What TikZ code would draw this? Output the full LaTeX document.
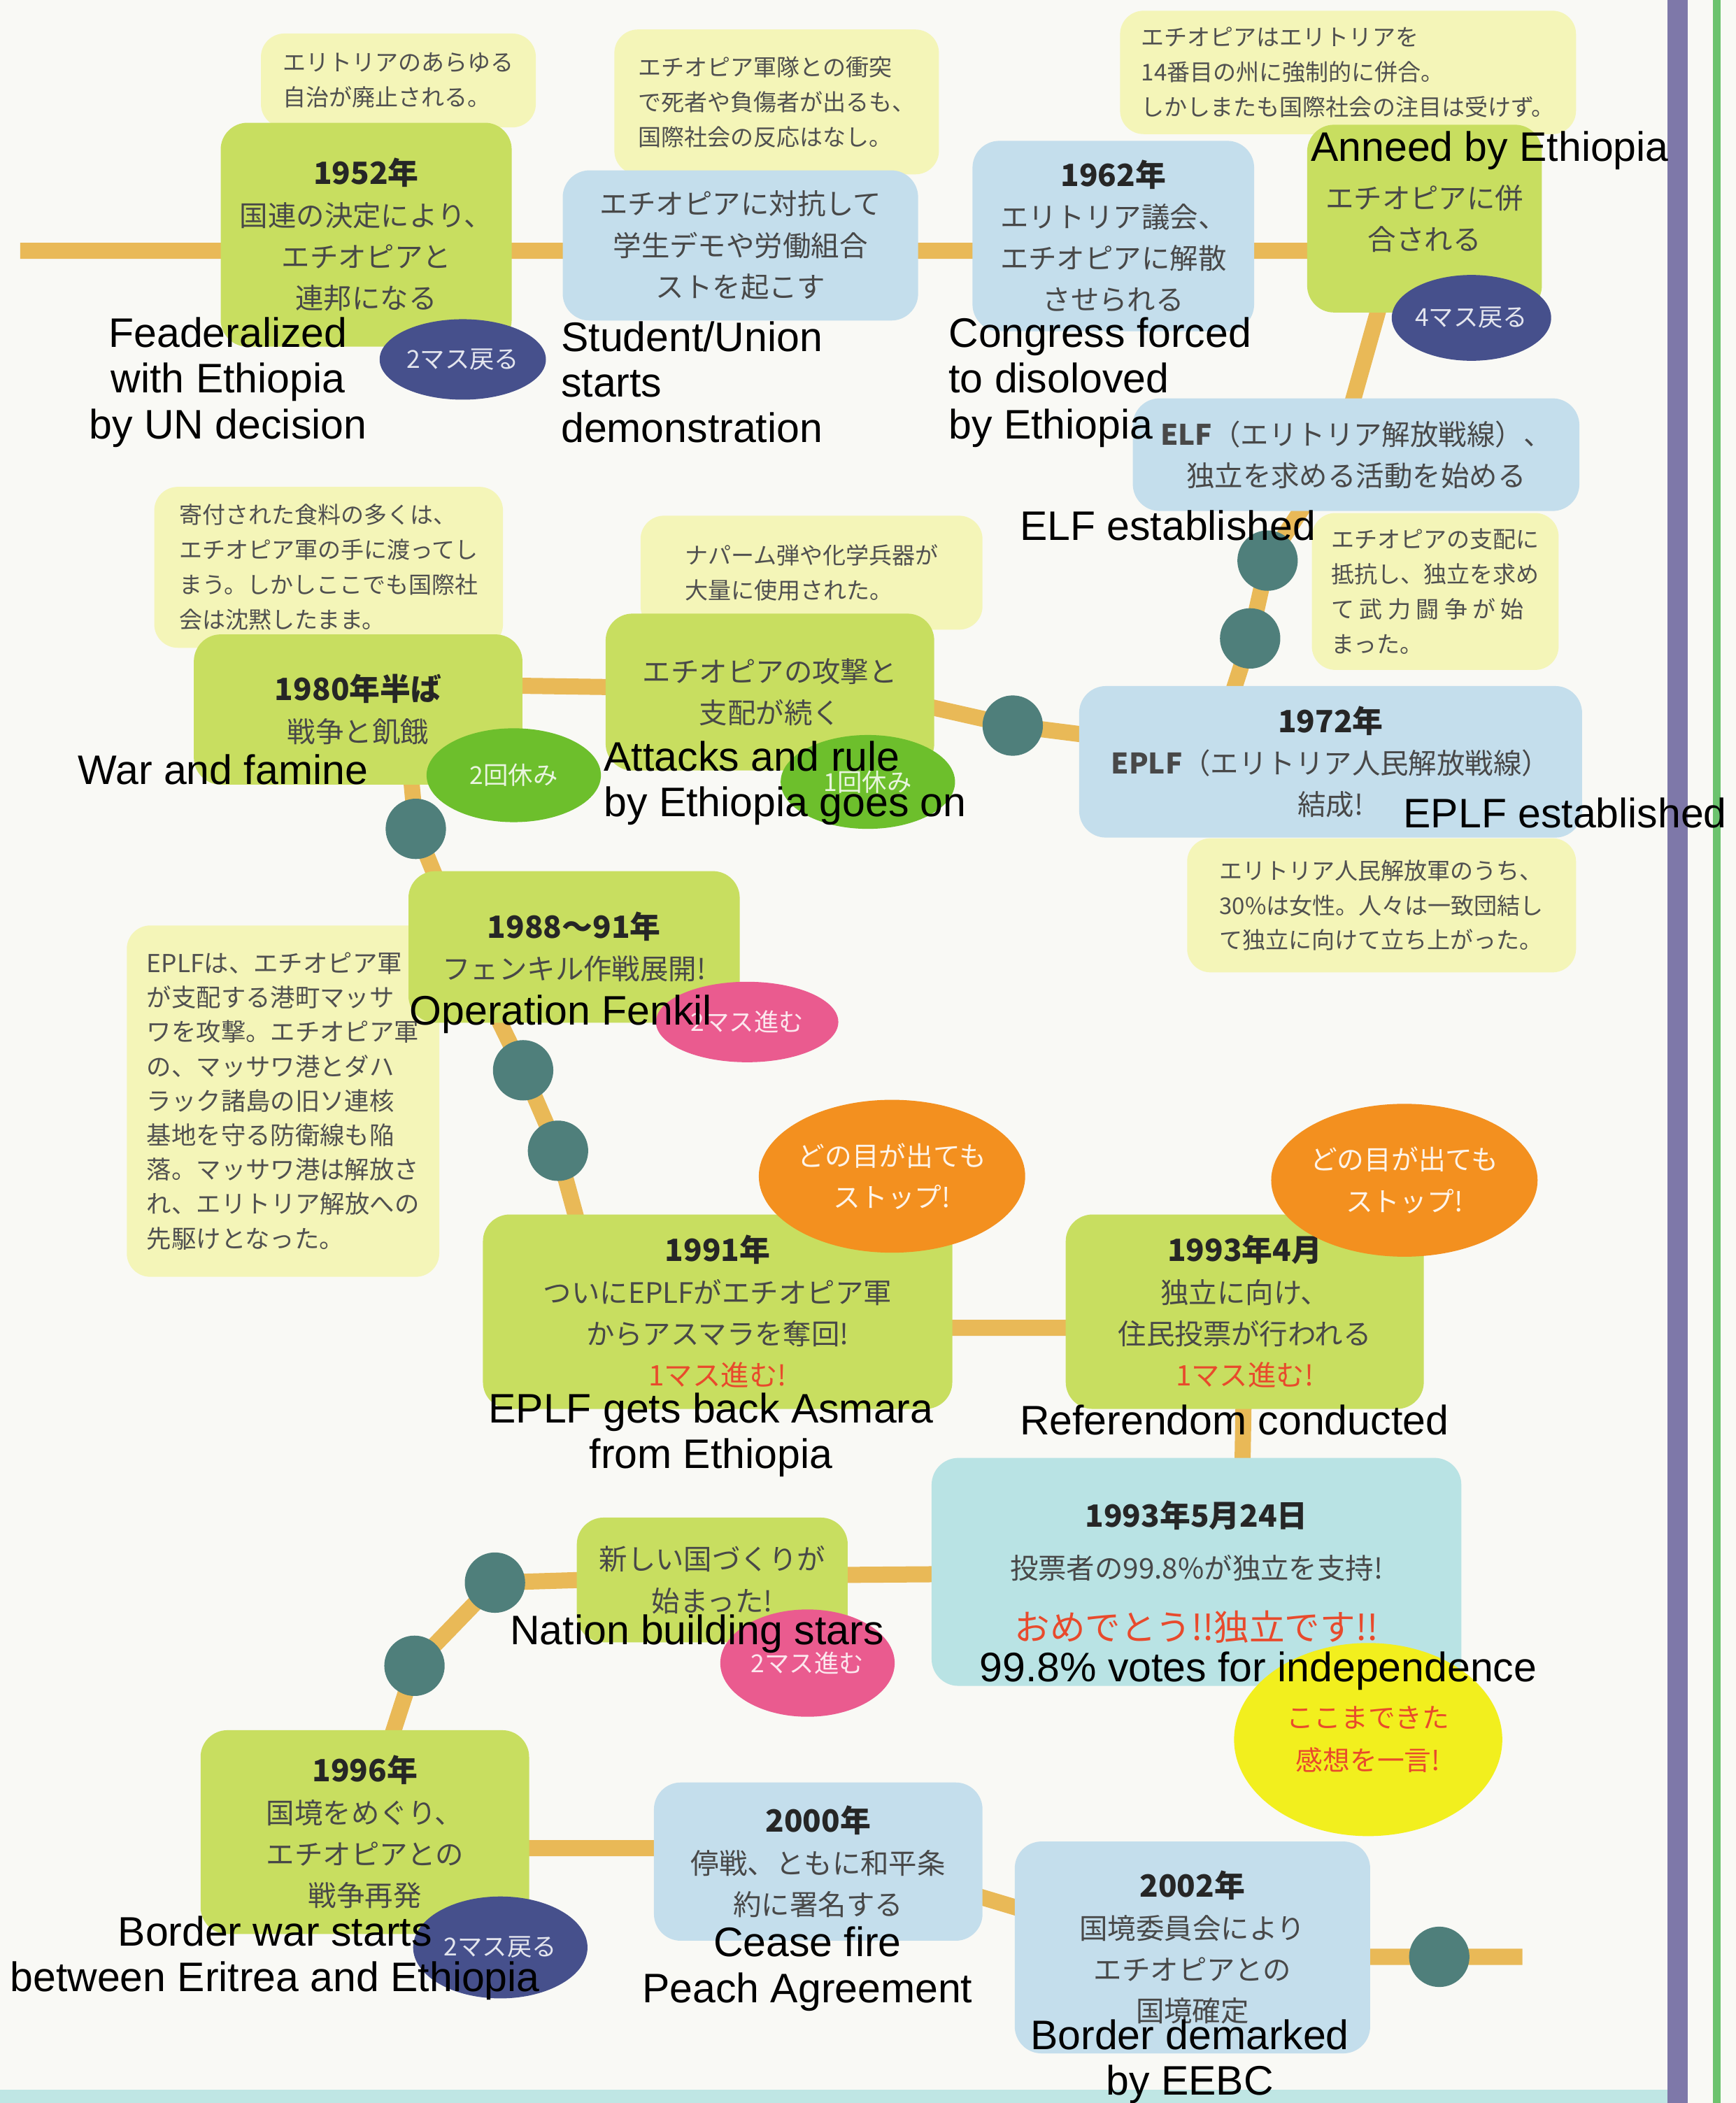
\documentclass[tikz,border=0pt]{standalone}
\usepackage{fontspec}
\usepackage{xcolor}
\usepackage{tikz}
\usetikzlibrary{positioning, shapes.geometric, backgrounds}
\setmainfont{Liberation Sans}
\newfontfamily\jpfont{Noto Sans CJK JP}
\definecolor{pagebg}{HTML}{F9F9F5}
\definecolor{notey}{HTML}{F4F5B8}
\definecolor{boxgreen}{HTML}{C8DE60}
\definecolor{boxblue}{HTML}{C4DEEC}
\definecolor{boxcyan}{HTML}{B9E3E4}
\definecolor{chipnavy}{HTML}{46508C}
\definecolor{chipgreen}{HTML}{6DBF2C}
\definecolor{chippink}{HTML}{EA5B8F}
\definecolor{chiporange}{HTML}{F3901F}
\definecolor{chipyellow}{HTML}{F2EF1E}
\definecolor{dotteal}{HTML}{4F7F7B}
\definecolor{trackorange}{HTML}{E9B957}
\definecolor{barpurple}{HTML}{7E78A9}
\definecolor{bargreen}{HTML}{6CC36E}
\definecolor{bandcyan}{HTML}{BFE6E4}
\definecolor{boxtext}{HTML}{484848}
\definecolor{notetext}{HTML}{505050}
\definecolor{jpred}{HTML}{E84A2C}
\newcommand{\notefont}{\jpfont\fontsize{9.8}{14.8}\selectfont}
\newcommand{\boxfont}{\jpfont\fontsize{12}{17.6}\selectfont}
\newcommand{\chipfont}{\jpfont\fontsize{10.5}{17.6}\selectfont}
\newcommand{\engfont}{\fontsize{17.5}{19.4}\selectfont}
\newcommand{\yr}[1]{{\fontsize{13}{17.6}\selectfont\bfseries\color{black!85} #1}}

\begin{document}
\begin{tikzpicture}[
    x=0.02cm, y=-0.02cm,
    note/.style={fill=notey, rounded corners=0.35cm, inner sep=0pt, align=left, font=\notefont, text=notetext},
    greenbox/.style={fill=boxgreen, rounded corners=0.4cm, inner sep=0pt, align=center, font=\boxfont, text=boxtext},
    bluebox/.style={greenbox, fill=boxblue},
    chip/.style={ellipse, inner sep=0pt, align=center, font=\chipfont},
    dot/.style={circle, fill=dotteal, minimum size=0.9cm, inner sep=0pt},
    track/.style={line width=0.24cm, trackorange, line join=round},
    eng/.style={font=\engfont, text=black, inner sep=0pt},
]
    \useasboundingbox (0,0) rectangle (1294,1568);

    % side notes
    \node[note, minimum width=4.1cm, minimum height=1.4cm] (nAuto) at (297,60) {エリトリアのあらゆる\\自治が廃止される。};
    \node[note, minimum width=4.84cm, minimum height=2.16cm] (nClash) at (579,76) {エチオピア軍隊との衝突\\で死者や負傷者が出るも、\\国際社会の反応はなし。};
    \node[note, minimum width=6.8cm, minimum height=1.84cm] (nForce) at (1005,54) {エチオピアはエリトリアを\\14番目の州に強制的に併合。\\しかしまたも国際社会の注目は受けず。};
    \node[note, minimum width=5.2cm, minimum height=2.4cm] (nFood) at (245,423) {寄付された食料の多くは、\\エチオピア軍の手に渡ってし\\まう。しかしここでも国際社\\会は沈黙したまま。};
    \node[note, minimum width=5.1cm, minimum height=1.7cm] (nNapalm) at (605,427) {ナパーム弾や化学兵器が\\大量に使用された。};
    \node[note, minimum width=3.68cm, minimum height=2.34cm] (nArms) at (1070,441) {エチオピアの支配に\\抵抗し、独立を求め\\て 武 力 闘 争 が 始\\まった。};
    \node[note, minimum width=5.8cm, minimum height=2.0cm] (nWomen) at (1030,675) {エリトリア人民解放軍のうち、\\30\%は女性。人々は一致団結し\\て独立に向けて立ち上がった。};
    \node[note, font=\jpfont\fontsize{10.5}{14.6}\selectfont, minimum width=4.66cm, minimum height=5.24cm] (nMassawa) at (211,821) {EPLFは、エチオピア軍\\が支配する港町マッサ\\ワを攻撃。エチオピア軍\\の、マッサワ港とダハ\\ラック諸島の旧ソ連核\\基地を守る防衛線も陥\\落。マッサワ港は解放さ\\れ、エリトリア解放への\\先駆けとなった。};

    % squares of the board
    \node[greenbox, minimum width=4.34cm, minimum height=3.34cm] (b1952) at (273,175) {\yr{1952年}\\国連の決定により、\\エチオピアと\\連邦になる};
    \node[bluebox, minimum width=5.3cm, minimum height=2.24cm] (bStrike) at (552,183) {エチオピアに対抗して\\学生デモや労働組合\\ストを起こす};
    \node[bluebox, minimum width=4.2cm, minimum height=2.84cm] (b1962) at (830,176) {\yr{1962年}\\エリトリア議会、\\エチオピアに解散\\させられる};
    \node[greenbox, minimum width=3.5cm, minimum height=2.8cm] (bAnnex) at (1062,163) {エチオピアに併\\合される};
    \node[bluebox, minimum width=6.66cm, minimum height=1.68cm] (bELF) at (1011,339) {{\bfseries ELF}（エリトリア解放戦線）、\\独立を求める活動を始める};
    \node[bluebox, minimum width=7.5cm, minimum height=2.26cm] (b1972) at (992,568) {\yr{1972年}\\{\bfseries EPLF}（エリトリア人民解放戦線）\\結成!};
    \node[greenbox, minimum width=4.9cm, minimum height=2.24cm] (b1980) at (267,529) {\yr{1980年半ば}\\戦争と飢餓};
    \node[greenbox, minimum width=4.9cm, minimum height=2.34cm] (bAttack) at (574,516) {エチオピアの攻撃と\\支配が続く};
    \node[greenbox, minimum width=4.94cm, minimum height=2.26cm] (b1988) at (428,706) {\yr{1988～91年}\\フェンキル作戦展開!};
    \node[greenbox, minimum width=7.0cm, minimum height=2.9cm] (b1991) at (535,978) {\yr{1991年}\\ついにEPLFがエチオピア軍\\からアスマラを奪回!\\\textcolor{jpred}{1マス進む!}};
    \node[greenbox, minimum width=5.34cm, minimum height=2.9cm] (b1993) at (928,978) {\yr{1993年4月}\\独立に向け、\\住民投票が行われる\\\textcolor{jpred}{1マス進む!}};
    \node[greenbox, fill=boxcyan, font=\jpfont\fontsize{12}{22}\selectfont, minimum width=7.9cm, minimum height=3.4cm] (bVote) at (892,1172) {\yr{1993年5月24日}\\投票者の99.8\%が独立を支持!\\[4pt]{\fontsize{15}{20}\selectfont\color{jpred}おめでとう!!独立です!!}};
    \node[greenbox, minimum width=4.04cm, minimum height=1.86cm] (bNation) at (531,1178) {新しい国づくりが\\始まった!};
    \node[greenbox, minimum width=4.9cm, minimum height=3.04cm] (b1996) at (272,1366) {\yr{1996年}\\国境をめぐり、\\エチオピアとの\\戦争再発};
    \node[bluebox, minimum width=4.9cm, minimum height=2.36cm] (b2000) at (610,1388) {\yr{2000年}\\停戦、ともに和平条\\約に署名する};
    \node[bluebox, minimum width=5.3cm, minimum height=3.16cm] (b2002) at (889,1452) {\yr{2002年}\\国境委員会により\\エチオピアとの\\国境確定};

    % chips
    \node[chip, fill=chipnavy, text=white!85!chipnavy, minimum width=2.32cm, minimum height=1.28cm] (cBack4) at (1097,237) {4マス戻る};
    \node[chip, fill=chipnavy, text=white!85!chipnavy, minimum width=2.48cm, minimum height=1.2cm] (cBack2) at (345,268) {2マス戻る};
    \node[chip, fill=chipgreen, text=white!85!chipgreen, minimum width=2.6cm, minimum height=1.4cm] (cRest2) at (383,578) {2回休み};
    \node[chip, fill=chipgreen, text=white!85!chipgreen, minimum width=2.6cm, minimum height=1.4cm] (cRest1) at (647,583) {1回休み};
    \node[chip, fill=chippink, text=white!85!chippink, minimum width=2.72cm, minimum height=1.2cm] (cFwdA) at (557,762) {2マス進む};
    \node[chip, fill=chiporange, text=white!90!chiporange, font=\jpfont\fontsize{11.5}{17.6}\selectfont, minimum width=3.88cm, minimum height=2.28cm] (cStopA) at (665,877) {どの目が出ても\\ストップ!};
    \node[chip, fill=chiporange, text=white!90!chiporange, font=\jpfont\fontsize{11.5}{17.6}\selectfont, minimum width=3.88cm, minimum height=2.28cm] (cStopB) at (1047,880) {どの目が出ても\\ストップ!};
    \node[chip, fill=chipyellow, text=jpred, font=\jpfont\fontsize{11.5}{18}\selectfont, minimum width=4.0cm, minimum height=2.88cm] (cWord) at (1020,1297) {ここまできた\\感想を一言!};
    \node[chip, fill=chippink, text=white!85!chippink, minimum width=2.6cm, minimum height=1.6cm] (cFwdB) at (602,1240) {2マス進む};
    \node[chip, fill=chipnavy, text=white!85!chipnavy, minimum width=2.6cm, minimum height=1.52cm] (cBackB) at (373,1452) {2マス戻る};

    % plain squares
    \node[dot] (d1) at (945,418) {};
    \node[dot] (d2) at (932,476) {};
    \node[dot] (d3) at (755,541) {};
    \node[dot] (d4) at (310,618) {};
    \node[dot] (d5) at (390,798) {};
    \node[dot] (d6) at (416,858) {};
    \node[dot] (d7) at (369,1180) {};
    \node[dot] (d8) at (309,1242) {};
    \node[dot] (d9) at (1073,1459) {};

    % bends of the track
    \coordinate (tStart) at (15,187);
    \coordinate (tAnnex) at (1040,187);
    \coordinate (tELF) at (997,340);
    \coordinate (t1972) at (905,560);
    \coordinate (tAttack) at (640,515);
    \coordinate (t1980) at (300,510);
    \coordinate (t1988) at (352,720);
    \coordinate (t1991) at (452,990);
    \coordinate (t1993) at (928,990);
    \coordinate (tVote) at (925,1172);
    \coordinate (tNation) at (531,1175);
    \coordinate (t1996) at (265,1378);
    \coordinate (t2000) at (610,1378);
    \coordinate (t2002) at (880,1459);
    \coordinate (tEnd) at (1135,1459);

    \begin{scope}[on background layer]
        \fill[pagebg] (0,0) rectangle (1294,1568);
        \draw[track] (tStart) -- (tAnnex) -- (tELF) -- (d1.center) -- (d2.center) -- (t1972) -- (d3.center)
            -- (tAttack) -- (t1980) -- (d4.center) -- (t1988) -- (d5.center) -- (d6.center) -- (t1991)
            -- (t1993) -- (tVote) -- (tNation) -- (d7.center) -- (d8.center) -- (t1996) -- (t2000)
            -- (t2002) -- (d9.center) -- (tEnd);
    \end{scope}

    % page edge
    \fill[barpurple] (1243,0) rectangle (1258,1568);
    \fill[bargreen] (1277,0) rectangle (1283,1568);
    \fill[bandcyan] (0,1558) rectangle (1243,1568);

    % english captions
    \node[eng, align=center] (lFed) at (170,285) {Feaderalized\\with Ethiopia\\by UN decision};
    \node[eng, align=left, anchor=west] (lStrike) at (418,285) {Student/Union\\starts\\demonstration};
    \node[eng, align=left, anchor=west] (lCongress) at (707,285) {Congress forced\\to disoloved\\by Ethiopia};
    \node[eng, anchor=west] (lAnnex) at (977,112) {Anneed by Ethiopia};
    \node[eng, anchor=west] (lELF) at (760,392) {ELF established};
    \node[eng, anchor=west] (lWar) at (58,574) {War and famine};
    \node[eng, align=left, anchor=west] (lAttack) at (450,584) {Attacks and rule\\by Ethiopia goes on};
    \node[eng, anchor=west] (lEPLF) at (1046,606) {EPLF established};
    \node[eng, anchor=west] (lFenkil) at (305,756) {Operation Fenkil};
    \node[eng, align=center] (lAsmara) at (530,1070) {EPLF gets back Asmara\\from Ethiopia};
    \node[eng, anchor=west] (lRef) at (760,1059) {Referendom conducted};
    \node[eng, anchor=west] (lNation) at (380,1218) {Nation building stars};
    \node[eng, anchor=west] (lVote) at (730,1246) {99.8\% votes for independence};
    \node[eng, align=center] (lBorder) at (205,1460) {Border war starts\\between Eritrea and Ethiopia};
    \node[eng, align=center] (lCease) at (602,1468) {Cease fire\\Peach Agreement};
    \node[eng, align=center] (lDemark) at (887,1537) {Border demarked\\by EEBC};
\end{tikzpicture}
\end{document}
